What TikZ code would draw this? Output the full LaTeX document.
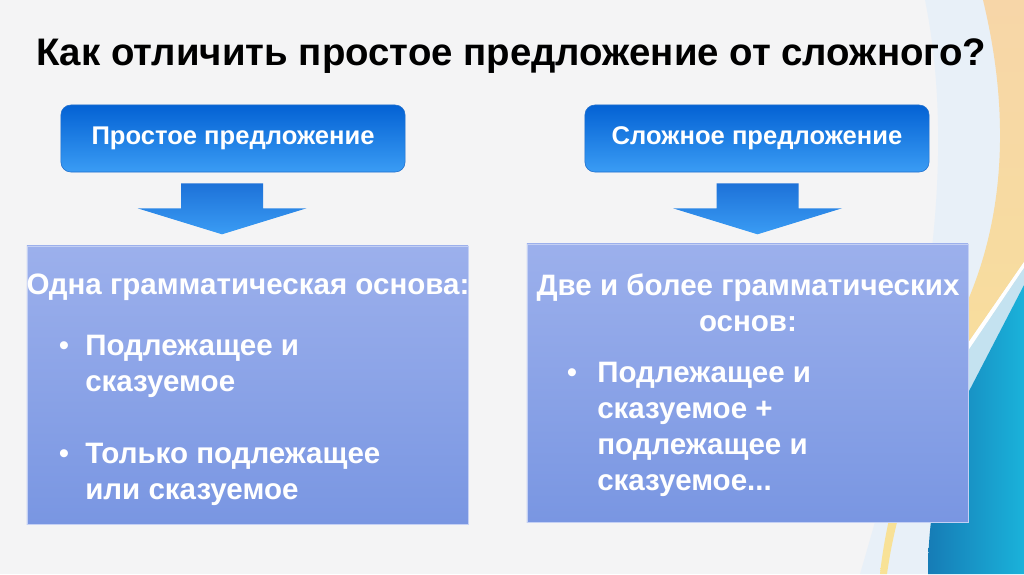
\documentclass[tikz,border=0pt]{standalone}
\usepackage{fontspec}
\setmainfont{Liberation Sans}
\usepackage{xcolor}
\usetikzlibrary{positioning,calc}

\definecolor{pagebg}{RGB}{244,244,245}
\definecolor{headtop}{RGB}{4,98,212}
\definecolor{headbot}{RGB}{58,156,244}
\definecolor{headline}{RGB}{30,110,205}
\definecolor{boxtop}{RGB}{156,176,236}
\definecolor{boxbot}{RGB}{121,150,226}
\definecolor{peach}{RGB}{247,214,168}
\definecolor{sand}{RGB}{248,226,150}
\definecolor{paleblue}{RGB}{232,240,248}
\definecolor{iceblue}{RGB}{196,226,240}
\definecolor{tealdark}{RGB}{22,124,182}
\definecolor{teallight}{RGB}{26,178,218}

% lines stacked from the first baseline
\newcommand\leftlines[1]{\vtop{\halign{##\hfil\cr#1\crcr}}}
\newcommand\midlines[1]{\vtop{\halign{\hfil##\hfil\cr#1\crcr}}}

\begin{document}
\begin{tikzpicture}[x=0.025cm, y=-0.025cm,
    headbox/.style={rectangle, rounded corners=7pt, draw=headline, top color=headtop, bottom color=headbot,
      minimum width=8.6cm, minimum height=1.675cm, text=white, font=\bfseries\fontsize{18.2}{22}\selectfont},
    contentbox/.style={rectangle, top color=boxtop, bottom color=boxbot, draw=boxtop!60!white,
      minimum width=11.025cm, minimum height=6.95cm},
    blockarrow/.style={top color=headtop!90!white, bottom color=headbot},
    txt/.style={inner sep=0pt, text=white, font=\bfseries\fontsize{21}{25.6}\selectfont},
    dot/.style={inner sep=0pt, text=white, font=\fontsize{21}{25.6}\selectfont}]
  \useasboundingbox (0,0) rectangle (1024,574);
  \fill[pagebg] (0,0) rectangle (1024,574);

  % decorative bands on the right
  \fill[paleblue] (925,0) .. controls (965,200) and (905,420) .. (860,574) -- (1024,574) -- (1024,0) -- cycle;
  \shade[top color=peach, bottom color=sand]
    (983,0) .. controls (1012,120) and (1002,220) .. (968,300)
    .. controls (930,390) and (890,480) .. (880,574) -- (887,574)
    .. controls (900,480) and (940,400) .. (968,343) -- (1024,262) -- (1024,0) -- cycle;
  \fill[white] (968,343) -- (1024,262) -- (1024,268) -- (968,351) -- cycle;
  \fill[iceblue] (968,351) -- (1024,268) -- (1024,285) -- (968,393) -- cycle;
  \shade[left color=tealdark, right color=teallight]
    (1024,285) -- (968,393) .. controls (945,440) and (928,500) .. (928,574) -- (1024,574) -- cycle;

  % title
  \node[anchor=base, inner sep=0pt, font=\bfseries\fontsize{27.3}{32}\selectfont] (title) at (511,65)
    {Как отличить простое предложение от сложного?};

  % headers
  \node[headbox] (simple) at (233,138.5) {Простое предложение};
  \node[headbox] (complex) at (757,138.5) {Сложное предложение};

  % content boxes
  \node[contentbox] (simplebox) at (247.5,385) {};
  \node[contentbox] (complexbox) at (747.5,383) {};

  % block arrows
  \coordinate (sa) at ($(simple.south)+(-11,11)$);
  \coordinate (ca) at ($(complex.south)+(0.5,11)$);
  \foreach \a in {sa,ca}
    \shade[blockarrow] ($(\a)+(-41,0)$) -- ($(\a)+(41,0)$) -- ($(\a)+(41,25)$) -- ($(\a)+(84.5,25)$)
      -- ($(\a)+(0,51)$) -- ($(\a)+(-84.5,25)$) -- ($(\a)+(-41,25)$) -- cycle;

  % left box text
  \node[txt, anchor=base] (one) at (248,294) {Одна грамматическая основа:};
  \node[dot, anchor=base] (b1) at (64,355) {•};
  \node[txt, anchor=base west] (subjpred) at (85,355) {\leftlines{Подлежащее и\cr сказуемое}};
  \node[dot, anchor=base] (b2) at (64,463) {•};
  \node[txt, anchor=base west] (onlyone) at (85,463) {\leftlines{Только подлежащее\cr или сказуемое}};

  % right box text
  \node[txt, anchor=base] (two) at (748,295) {\midlines{Две и более грамматических\cr основ:}};
  \node[dot, anchor=base] (b3) at (572,382) {•};
  \node[txt, anchor=base west] (pairs) at (597,382)
    {\leftlines{Подлежащее и\cr сказуемое +\cr подлежащее и\cr сказуемое...}};
\end{tikzpicture}
\end{document}
